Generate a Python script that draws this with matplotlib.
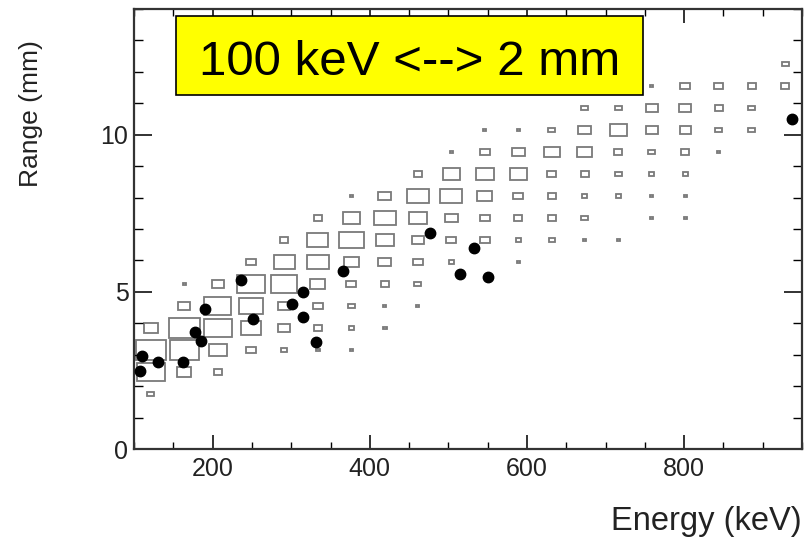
import numpy as np
import matplotlib
matplotlib.use("Agg")
import matplotlib.pyplot as plt
from matplotlib.patches import Rectangle
from matplotlib.ticker import MultipleLocator

# 2D histogram binning: energy 100-950 keV, range 0-14 mm, 20 x 20 bins
x_edges = np.linspace(100, 950, 21)
y_edges = np.linspace(0, 14, 21)

# bin contents, one row per range bin (bottom row first), one column per energy bin
counts = np.array([
    # j: 0   1   2   3   4   5   6   7   8   9  10  11  12  13  14  15  16  17  18  19
    [0,  0,  0,  0,  0,  0,  0,  0,  0,  0,  0,  0,  0,  0,  0,  0,  0,  0,  0,  0],   # k=0
    [0,  0,  0,  0,  0,  0,  0,  0,  0,  0,  0,  0,  0,  0,  0,  0,  0,  0,  0,  0],   # k=1
    [7,  0,  0,  0,  0,  0,  0,  0,  0,  0,  0,  0,  0,  0,  0,  0,  0,  0,  0,  0],   # k=2
    [28, 14, 8,  0,  0,  0,  0,  0,  0,  0,  0,  0,  0,  0,  0,  0,  0,  0,  0,  0],   # k=3
    [30, 29, 18, 10, 6,  4,  3,  0,  0,  0,  0,  0,  0,  0,  0,  0,  0,  0,  0,  0],   # k=4
    [14, 31, 28, 20, 12, 8,  5,  4,  0,  0,  0,  0,  0,  0,  0,  0,  0,  0,  0,  0],   # k=5
    [0,  12, 27, 24, 12, 10, 7,  3,  3,  0,  0,  0,  0,  0,  0,  0,  0,  0,  0,  0],   # k=6
    [0,  3,  12, 28, 26, 15, 10, 8,  7,  0,  0,  0,  0,  0,  0,  0,  0,  0,  0,  0],   # k=7
    [0,  0,  0,  10, 21, 22, 15, 13, 10, 5,  0,  3,  0,  0,  0,  0,  0,  0,  0,  0],   # k=8
    [0,  0,  0,  0,  8,  21, 25, 18, 12, 10, 10, 5,  6,  3,  3,  0,  0,  0,  0,  0],   # k=9
    [0,  0,  0,  0,  0,  8,  17, 22, 18, 13, 10, 8,  8,  7,  0,  3,  3,  0,  0,  0],   # k=10
    [0,  0,  0,  0,  0,  0,  3,  13, 22, 22, 15, 10, 8,  5,  5,  3,  3,  0,  0,  0],   # k=11
    [0,  0,  0,  0,  0,  0,  0,  0,  8,  17, 18, 17, 9,  8,  7,  5,  5,  0,  0,  0],   # k=12
    [0,  0,  0,  0,  0,  0,  0,  0,  0,  3,  10, 13, 16, 15, 8,  7,  8,  3,  0,  0],   # k=13
    [0,  0,  0,  0,  0,  0,  0,  0,  0,  0,  3,  3,  7,  13, 17, 12, 11, 7,  7,  0],   # k=14
    [0,  0,  0,  0,  0,  0,  0,  0,  0,  0,  0,  0,  0,  7,  7,  12, 12, 8,  7,  0],   # k=15
    [0,  0,  0,  0,  0,  0,  0,  0,  0,  0,  0,  0,  0,  0,  0,  3,  10, 9,  8,  8],   # k=16
    [0,  0,  0,  0,  0,  0,  0,  0,  0,  0,  0,  0,  0,  0,  0,  0,  0,  0,  0,  7],   # k=17
    [0,  0,  0,  0,  0,  0,  0,  0,  0,  0,  0,  0,  0,  0,  0,  0,  0,  0,  0,  0],   # k=18
    [0,  0,  0,  0,  0,  0,  0,  0,  0,  0,  0,  0,  0,  0,  0,  0,  0,  0,  0,  0],   # k=19
])

# measured points
meas_energy = [110, 108, 130, 162, 177, 185, 190, 236, 252, 301,
               315, 315, 332, 366, 477, 532, 515, 551, 937]
meas_range = [2.96, 2.49, 2.76, 2.76, 3.71, 3.44, 4.47, 5.37, 4.15, 4.61,
              5.00, 4.19, 3.41, 5.66, 6.88, 6.41, 5.56, 5.46, 10.5]

plt.rcParams['font.family'] = ['Liberation Sans', 'DejaVu Sans']

fig = plt.figure(figsize=(8.06, 5.4), dpi=100)
ax = fig.add_axes([0.1663, 0.1685, 0.8288, 0.8148])

dx = x_edges[1] - x_edges[0]
dy = y_edges[1] - y_edges[0]
cmax = counts.max()
for k in range(counts.shape[0]):
    for j in range(counts.shape[1]):
        c = counts[k, j]
        if c <= 0:
            continue
        f = 0.93 * c / cmax
        xc = 0.5 * (x_edges[j] + x_edges[j + 1])
        yc = 0.5 * (y_edges[k] + y_edges[k + 1])
        ax.add_patch(Rectangle((xc - 0.5 * f * dx, yc - 0.5 * f * dy), f * dx, f * dy,
                               fill=False, edgecolor='#7a7a7a', lw=1.3))

ax.plot(meas_energy, meas_range, 'o', color='black', markersize=7.5, zorder=5)

ax.set_xlim(100, 950)
ax.set_ylim(0, 14)
ax.xaxis.set_major_locator(MultipleLocator(200))
ax.xaxis.set_minor_locator(MultipleLocator(50))
ax.yaxis.set_major_locator(MultipleLocator(5))
ax.yaxis.set_minor_locator(MultipleLocator(1))
ax.tick_params(axis='x', which='major', direction='in', length=10, width=1.3,
               top=True, labelsize=18, pad=6, colors='#222222')
ax.tick_params(axis='x', which='minor', direction='in', length=5, width=1.0, top=True)
ax.tick_params(axis='y', which='major', direction='in', length=13, width=1.3,
               right=True, labelsize=18, pad=4, colors='#222222')
ax.tick_params(axis='y', which='minor', direction='in', length=6.5, width=1.0, right=True)
for s in ax.spines.values():
    s.set_linewidth(1.6)
    s.set_color('#333333')

fig.text(0.995, 0.035, 'Energy (keV)', ha='right', va='center', fontsize=23.5, color='#222222')
fig.text(0.038, 0.926, 'Range (mm)', ha='center', va='top', rotation=90, fontsize=19,
         color='#222222')

# yellow annotation box
ax.add_patch(Rectangle((0.0629, 0.805), 0.699, 0.179, transform=ax.transAxes,
                       facecolor='#ffff00', edgecolor='black', lw=1.2, zorder=10))
ax.text(0.4124, 0.850, '100 keV <--> 2 mm', transform=ax.transAxes, ha='center',
        va='baseline', fontsize=35.5, color='black', zorder=11)

fig.savefig('out.png', dpi=100)
